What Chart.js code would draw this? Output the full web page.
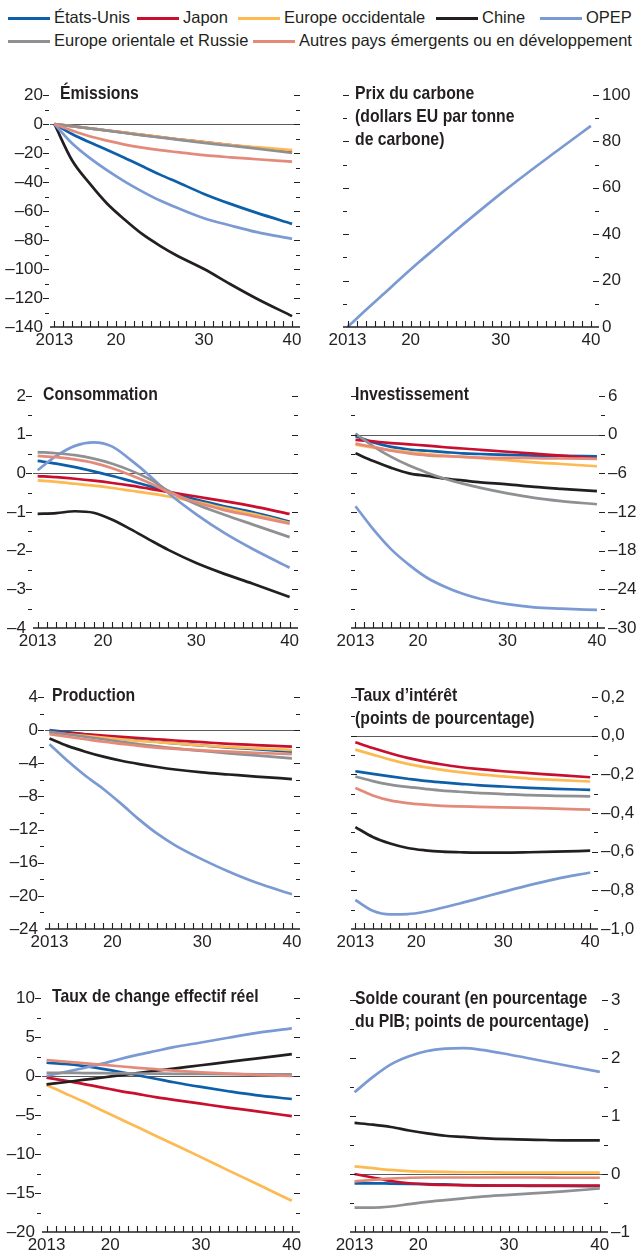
<!DOCTYPE html>
<html lang="fr">
<head>
<meta charset="utf-8">
<title>Effets d'une taxe carbone</title>
<script src="https://cdn.jsdelivr.net/npm/chart.js@4.4.1/dist/chart.umd.min.js"></script>
<style>
  html, body { margin: 0; padding: 0; background: #fff; }
  #page { position: relative; width: 638px; height: 1256px; overflow: hidden; }
  canvas { position: absolute; }
  .lg { position: absolute; height: 20px; line-height: 20px; font: 16.5px 'Liberation Sans', Arial, sans-serif; color: #231f20; white-space: nowrap; }
  .sw { position: absolute; width: 42px; height: 3px; }
</style>
</head>
<body>
<div id="page"></div>
<script>
const years = [2013, 2015, 2017, 2019, 2021, 2023, 2025, 2027, 2030, 2033, 2036, 2040];
const labelYears = [2013, 2020, 2030, 2040];
const labelTexts = ['2013', '20', '30', '40'];

const regions = ['États-Unis', 'Japon', 'Europe occidentale', 'Chine', 'OPEP',
  'Europe orientale et Russie', 'Autres pays émergents ou en développement'];
const regionColors = ['#0d5fa9', '#c8102e', '#fdb952', '#231f20', '#7b9ad3', '#8f9094', '#e38a7a'];

// each panel: one series per region, same order as regions
const emissions = [
  [0, -6.9, -12.6, -17.9, -23.4, -29.2, -34.9, -40.2, -48.2, -55.1, -61.3, -68.9],
  [0, -1.5, -3, -4.5, -6, -7.5, -9, -10.5, -12.5, -14.5, -16.5, -19],
  [0, -1.5, -3, -4.5, -6, -7.5, -9, -10.5, -12.5, -14.5, -16, -18],
  [0, -25, -41, -55, -66, -76, -84, -91, -100, -110.5, -120.5, -132.5],
  [0, -13.3, -23.4, -32, -39.7, -46.6, -52.8, -58, -65, -70, -74.6, -79.2],
  [0, -1.5, -3, -4.6, -6.2, -7.8, -9.3, -10.8, -13, -15, -17, -20],
  [0, -4.5, -8.5, -11.5, -14.2, -16.3, -18, -19.4, -21.5, -23, -24.3, -26]
];
const carbonPrice = [0, 7.2, 14.2, 21.3, 28.2, 34.8, 41.5, 48, 57.5, 66.5, 75.2, 86.7];
const consumption = [
  [0.32, 0.25, 0.16, 0.05, -0.07, -0.2, -0.33, -0.48, -0.68, -0.85, -1.0, -1.25],
  [-0.07, -0.1, -0.14, -0.19, -0.25, -0.32, -0.4, -0.48, -0.6, -0.72, -0.85, -1.05],
  [-0.18, -0.22, -0.27, -0.32, -0.38, -0.45, -0.52, -0.6, -0.74, -0.9, -1.05, -1.28],
  [-1.05, -1.03, -0.98, -1.02, -1.2, -1.45, -1.72, -1.98, -2.32, -2.6, -2.85, -3.2],
  [0.08, 0.45, 0.71, 0.8, 0.69, 0.34, -0.06, -0.51, -1.06, -1.54, -1.95, -2.44],
  [0.55, 0.52, 0.47, 0.38, 0.25, 0.07, -0.15, -0.45, -0.8, -1.07, -1.32, -1.65],
  [0.45, 0.42, 0.36, 0.27, 0.13, -0.05, -0.25, -0.48, -0.75, -0.95, -1.1, -1.3]
];
const investment = [
  [-0.25, -1.2, -1.9, -2.3, -2.5, -2.7, -2.9, -3.0, -3.15, -3.25, -3.3, -3.35],
  [-0.8, -1.05, -1.3, -1.5, -1.7, -1.95, -2.15, -2.35, -2.65, -2.95, -3.25, -3.7],
  [-1.55, -2.0, -2.4, -2.7, -3.0, -3.25, -3.45, -3.65, -3.95, -4.3, -4.55, -4.9],
  [-2.9, -4.1, -5.15, -6.0, -6.4, -6.8, -7.1, -7.4, -7.7, -8.1, -8.4, -8.75],
  [-11.1, -14.7, -17.8, -20.2, -22.2, -23.6, -24.7, -25.5, -26.3, -26.8, -27.0, -27.2],
  [0.15, -1.8, -3.45, -4.8, -5.9, -6.85, -7.6, -8.25, -9.1, -9.8, -10.3, -10.8],
  [-1.4, -1.9, -2.5, -2.9, -3.2, -3.35, -3.45, -3.55, -3.6, -3.65, -3.7, -3.75]
];
const output = [
  [0, -0.25, -0.5, -0.75, -1.0, -1.2, -1.4, -1.6, -1.85, -2.1, -2.3, -2.6],
  [-0.2, -0.35, -0.5, -0.65, -0.8, -0.95, -1.1, -1.25, -1.45, -1.65, -1.8, -2.0],
  [-0.3, -0.5, -0.7, -0.9, -1.1, -1.3, -1.45, -1.6, -1.85, -2.05, -2.2, -2.4],
  [-1.0, -1.9, -2.6, -3.2, -3.7, -4.1, -4.45, -4.75, -5.1, -5.35, -5.6, -5.9],
  [-1.7, -3.7, -5.5, -7.1, -8.9, -10.8, -12.5, -13.9, -15.6, -17.1, -18.4, -19.8],
  [-0.2, -0.5, -0.8, -1.1, -1.4, -1.7, -1.95, -2.2, -2.5, -2.8, -3.05, -3.4],
  [-0.5, -0.8, -1.1, -1.4, -1.65, -1.9, -2.1, -2.25, -2.45, -2.6, -2.75, -2.9]
];
const interestRate = [
  [-0.184, -0.198, -0.211, -0.223, -0.234, -0.242, -0.249, -0.256, -0.263, -0.27, -0.275, -0.28],
  [-0.034, -0.064, -0.091, -0.115, -0.134, -0.149, -0.162, -0.172, -0.184, -0.194, -0.203, -0.215],
  [-0.072, -0.098, -0.124, -0.146, -0.163, -0.177, -0.189, -0.199, -0.211, -0.222, -0.229, -0.237],
  [-0.473, -0.524, -0.558, -0.581, -0.593, -0.6, -0.603, -0.605, -0.605, -0.603, -0.6, -0.595],
  [-0.85, -0.905, -0.924, -0.923, -0.911, -0.89, -0.868, -0.844, -0.808, -0.773, -0.742, -0.708],
  [-0.211, -0.235, -0.253, -0.265, -0.275, -0.284, -0.29, -0.296, -0.302, -0.308, -0.311, -0.314],
  [-0.271, -0.309, -0.335, -0.349, -0.357, -0.363, -0.366, -0.368, -0.371, -0.374, -0.377, -0.383]
];
const exchangeRate = [
  [1.7, 1.55, 1.3, 0.95, 0.55, 0.1, -0.35, -0.8, -1.4, -1.95, -2.45, -2.95],
  [-0.2, -0.6, -1.0, -1.45, -1.9, -2.3, -2.7, -3.05, -3.55, -4.05, -4.5, -5.15],
  [-1.15, -2.2, -3.25, -4.35, -5.45, -6.55, -7.65, -8.75, -10.4, -12.1, -13.75, -16.0],
  [-1.07, -0.8, -0.5, -0.22, 0.08, 0.38, 0.67, 0.95, 1.38, 1.8, 2.23, 2.8],
  [0, 0.5, 1.0, 1.55, 2.15, 2.7, 3.2, 3.7, 4.3, 4.9, 5.5, 6.1],
  [0.4, 0.4, 0.38, 0.36, 0.34, 0.32, 0.3, 0.28, 0.26, 0.24, 0.22, 0.2],
  [2.05, 1.85, 1.65, 1.45, 1.25, 1.05, 0.87, 0.7, 0.48, 0.3, 0.15, 0.0]
];
const currentAccount = [
  [-0.16, -0.16, -0.165, -0.17, -0.175, -0.18, -0.19, -0.195, -0.2, -0.205, -0.205, -0.21],
  [0.0, -0.06, -0.12, -0.16, -0.18, -0.19, -0.195, -0.2, -0.2, -0.2, -0.2, -0.2],
  [0.13, 0.1, 0.07, 0.05, 0.04, 0.035, 0.03, 0.03, 0.025, 0.025, 0.025, 0.025],
  [0.88, 0.85, 0.81, 0.75, 0.7, 0.66, 0.64, 0.62, 0.6, 0.59, 0.58, 0.58],
  [1.41, 1.67, 1.89, 2.03, 2.12, 2.16, 2.17, 2.14, 2.06, 1.97, 1.88, 1.76],
  [-0.58, -0.58, -0.56, -0.52, -0.48, -0.45, -0.42, -0.39, -0.36, -0.33, -0.3, -0.25],
  [-0.13, -0.1, -0.08, -0.065, -0.06, -0.06, -0.06, -0.06, -0.06, -0.06, -0.065, -0.065]
];

const sans = "'Liberation Sans', Arial, sans-serif";
const ink = '#231f20';

// box = [left, top, right, bottom] of the plot area on the page
const panels = [
  { series: emissions, title: ['Émissions'], min: -140, max: 20, step: 20, dec: 0, side: 'left', zero: true, box: [50, 95, 300, 327], titleX: 60 },
  { series: [carbonPrice], names: ['Prix du carbone'], colors: [regionColors[4]], title: ['Prix du carbone', '(dollars EU par tonne', 'de carbone)'], min: 0, max: 100, step: 20, dec: 0, side: 'right', zero: false, box: [343, 95, 599, 327], titleX: 355 },
  { series: consumption, title: ['Consommation'], min: -4, max: 2, step: 1, dec: 0, side: 'left', zero: true, box: [33, 396, 298, 628], titleX: 43 },
  { series: investment, title: ['Investissement'], min: -30, max: 6, step: 6, dec: 0, side: 'right', zero: true, box: [351, 396, 605, 628], titleX: 355 },
  { series: output, title: ['Production'], min: -24, max: 4, step: 4, dec: 0, side: 'left', zero: true, box: [45, 697, 300, 929], titleX: 52 },
  { series: interestRate, title: ['Taux d\u2019intérêt', '(points de pourcentage)'], min: -1, max: 0.2, step: 0.2, dec: 1, side: 'right', zero: true, box: [351, 697, 598, 929], titleX: 355 },
  { series: exchangeRate, title: ['Taux de change effectif réel'], min: -20, max: 10, step: 5, dec: 0, side: 'left', zero: true, box: [42, 998, 300, 1232], titleX: 52 },
  { series: currentAccount, title: ['Solde courant (en pourcentage', 'du PIB; points de pourcentage)'], min: -1, max: 3, step: 1, dec: 0, side: 'right', zero: true, box: [350, 1000, 608, 1232], titleX: 355 }
];

function fmt(v, dec) {
  if (Math.abs(v) < 1e-9) v = 0;
  return v.toFixed(dec).replace('.', ',').replace('-', '\u2013');
}

// zero line, axis line, tick marks and panel title
const frame = {
  id: 'frame',
  beforeDatasetsDraw(chart, args, o) {
    if (!o.zero) return;
    const { ctx, chartArea: a, scales: { y } } = chart;
    const py = Math.round(y.getPixelForValue(0)) + 0.5;
    ctx.save();
    ctx.strokeStyle = '#5b5b5b';
    ctx.lineWidth = 1.2;
    ctx.beginPath(); ctx.moveTo(a.left, py); ctx.lineTo(a.right, py); ctx.stroke();
    ctx.restore();
  },
  afterDraw(chart, args, o) {
    const { ctx, chartArea: a, scales: { x, y } } = chart;
    ctx.save();
    ctx.strokeStyle = ink;
    ctx.lineWidth = 1.7;
    ctx.beginPath(); ctx.moveTo(a.left, a.bottom); ctx.lineTo(a.right, a.bottom); ctx.stroke();
    ctx.lineWidth = 1.1;
    ctx.beginPath();
    for (let yr = years[0]; yr <= years[years.length - 1]; yr++) {
      const px = Math.round(x.getPixelForValue(yr)) + 0.5;
      ctx.moveTo(px, a.bottom); ctx.lineTo(px, a.bottom - 6);
    }
    const half = o.step / 2;
    const n = Math.round((o.max - o.min) / half);
    for (let i = 1; i <= n; i++) {
      const py = Math.round(y.getPixelForValue(o.min + i * half)) + 0.5;
      const len = i % 2 === 0 ? 6 : 4;
      if (o.side === 'left') {
        ctx.moveTo(a.left - len - 1, py); ctx.lineTo(a.left - 1, py);
      } else {
        ctx.moveTo(a.left, py); ctx.lineTo(a.left + len, py);
      }
      ctx.moveTo(a.right - len, py); ctx.lineTo(a.right, py);
    }
    ctx.stroke();
    // bold condensed title: a regular face squeezed horizontally
    ctx.fillStyle = ink;
    ctx.font = 'bold 19px ' + sans;
    ctx.textBaseline = 'middle';
    ctx.textAlign = 'left';
    o.title.forEach((t, i) => {
      ctx.save();
      ctx.translate(o.titleX, a.top - 1 + i * 23);
      ctx.scale(0.83, 1);
      ctx.fillText(t, 0, 0);
      ctx.restore();
    });
    ctx.restore();
  }
};

const page = document.getElementById('page');

panels.forEach((p, k) => {
  const [L, T, R, B] = p.box;
  const cx = p.side === 'left' ? 0 : 319;
  const cw = 319;
  const ct = T - 25;
  const ch = B - T + 48;
  const cv = document.createElement('canvas');
  cv.width = cw; cv.height = ch;
  cv.style.left = cx + 'px'; cv.style.top = ct + 'px';
  cv.style.width = cw + 'px'; cv.style.height = ch + 'px';
  page.appendChild(cv);

  const names = p.names || regions;
  const colors = p.colors || regionColors;
  const datasets = p.series.map((vals, i) => ({
    label: names[i],
    data: years.map((yr, j) => ({ x: yr, y: vals[j] })),
    borderColor: colors[i],
    borderWidth: 2.7,
    pointRadius: 0,
    fill: false,
    cubicInterpolationMode: 'monotone',
    order: -i
  }));

  const yWidth = p.side === 'left' ? L - cx : cx + cw - R;
  new Chart(cv.getContext('2d'), {
    type: 'line',
    data: { datasets: datasets },
    options: {
      responsive: false,
      animation: false,
      events: [],
      layout: {
        padding: {
          top: 25, bottom: 0,
          left: p.side === 'left' ? 0 : L - cx,
          right: p.side === 'left' ? cx + cw - R : 0
        }
      },
      plugins: {
        legend: { display: false },
        tooltip: { enabled: false },
        frame: { zero: p.zero, min: p.min, max: p.max, step: p.step, side: p.side, title: p.title, titleX: p.titleX - cx }
      },
      scales: {
        x: {
          type: 'linear',
          min: 2012.5,
          max: 2040.9,
          grid: { display: false, drawTicks: false },
          border: { display: false },
          ticks: {
            stepSize: 1,
            autoSkip: false,
            maxRotation: 0,
            includeBounds: false,
            padding: 3,
            color: ink,
            font: { family: sans, size: 17 },
            callback: v => {
              const idx = labelYears.indexOf(Math.round(v));
              return idx >= 0 && Math.abs(v - Math.round(v)) < 1e-6 ? labelTexts[idx] : '';
            }
          },
          afterFit: s => { s.height = 23; s.paddingLeft = 0; s.paddingRight = 0; }
        },
        y: {
          position: p.side,
          min: p.min,
          max: p.max,
          grid: { display: false, drawTicks: false },
          border: { display: false },
          ticks: {
            stepSize: p.step,
            padding: p.side === 'left' ? 7 : 3,
            color: ink,
            font: { family: sans, size: 17 },
            callback: v => fmt(v, p.dec)
          },
          afterFit: s => { s.width = yWidth; }
        }
      }
    },
    plugins: [frame]
  });
});

// shared legend
const legendPos = [[8, 18], [137, 18], [238, 18], [436, 18], [540, 18], [8, 41], [253, 41]];
regions.forEach((name, i) => {
  const [sx, cy] = legendPos[i];
  const sw = document.createElement('div');
  sw.className = 'sw';
  sw.style.left = sx + 'px';
  sw.style.top = (cy - 1) + 'px';
  sw.style.background = regionColors[i];
  page.appendChild(sw);
  const tx = document.createElement('div');
  tx.className = 'lg';
  tx.style.left = (sx + 46) + 'px';
  tx.style.top = (cy - 10) + 'px';
  tx.textContent = name;
  page.appendChild(tx);
});
</script>
</body>
</html>
